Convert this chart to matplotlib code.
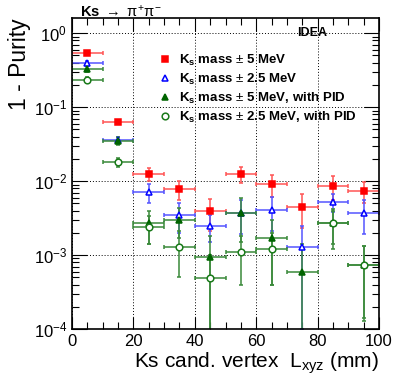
import matplotlib
matplotlib.use("Agg")
import matplotlib.pyplot as plt
from matplotlib.ticker import MultipleLocator, LogLocator, NullFormatter
import numpy as np

plt.rcParams['font.family'] = ['Liberation Sans', 'DejaVu Sans']
plt.rcParams['mathtext.fontset'] = 'custom'
plt.rcParams['mathtext.rm'] = 'Liberation Sans'
plt.rcParams['mathtext.it'] = 'Liberation Sans'
plt.rcParams['mathtext.bf'] = 'Liberation Sans:bold'

# bin centres (mm), half width 5 mm
x_red = [5, 15, 25, 35, 45, 55, 65, 75, 85, 95]
red = [0.54, 0.063, 0.0125, 0.0078, 0.0039, 0.0125, 0.0091, 0.0045, 0.0086, 0.0074]
red_err = [0.03, 0.004, 0.0025, 0.0022, 0.0018, 0.003, 0.003, 0.0022, 0.003, 0.0023]

x_blue = [5, 15, 25, 35, 45, 55, 65, 75, 85, 95]
blue = [0.39, 0.036, 0.0071, 0.0035, 0.0025, 0.0037, 0.0041, 0.0013, 0.0053, 0.0037]
blue_err = [0.03, 0.004, 0.002, 0.0015, 0.001, 0.0018, 0.002, 0.0012, 0.0015, 0.0018]

x_gtri = [5, 15, 25, 35, 45, 55, 65, 75, 85, 95]
gtri = [0.33, 0.035, 0.0027, 0.003, 0.00094, 0.0037, 0.0017, 0.0006, 0.0027, 0.00073]
gtri_err = [0.03, 0.004, 0.0013, 0.0013, 0.0009, 0.0022, 0.0013, 0.0008, 0.0015, 0.0006]

x_gcirc = [5, 15, 25, 35, 45, 55, 65, 85, 95]
gcirc = [0.235, 0.018, 0.0024, 0.0013, 0.00049, 0.0011, 0.0012, 0.0027, 0.00074]
gcirc_err = [0.02, 0.0025, 0.001, 0.0008, 0.0005, 0.0007, 0.0008, 0.0013, 0.0006]

labels = [r"$\mathbf{K_s}$ mass $\pm$ 5 MeV",
          r"$\mathbf{K_s}$ mass $\pm$ 2.5 MeV",
          r"$\mathbf{K_s}$ mass $\pm$ 5 MeV, with PID",
          r"$\mathbf{K_s}$ mass $\pm$ 2.5 MeV, with PID"]

fig = plt.figure(figsize=(3.99, 3.84), dpi=100)
ax = fig.add_axes([0.1805, 0.143, 0.7695, 0.810])

series = [
    (x_red, red, red_err, 's', '#ff0000', '#ff0000', '#ff5555'),
    (x_blue, blue, blue_err, '^', 'white', '#0000ff', '#5555ff'),
    (x_gtri, gtri, gtri_err, '^', '#006400', '#006400', '#3a8a3a'),
    (x_gcirc, gcirc, gcirc_err, 'o', 'white', '#1a7a1a', '#3a8a3a'),
]
handles = []
for xs, ys, es, mk, fc, ec, bc in series:
    ax.errorbar(xs, ys, xerr=5, yerr=[es, es], fmt='none', ecolor=bc,
                elinewidth=1.3, capsize=1.5, capthick=1.3, alpha=0.85, zorder=2)
    h = ax.plot(xs, ys, linestyle='none', marker=mk, markersize=4.8,
                markerfacecolor=fc, markeredgecolor=ec, markeredgewidth=1.1, zorder=3)[0]
    handles.append(h)

ax.set_yscale('log')
ax.set_xlim(0, 100)
ax.set_ylim(1e-4, 1.6)

ax.xaxis.set_major_locator(MultipleLocator(20))
ax.xaxis.set_minor_locator(MultipleLocator(5))
ax.yaxis.set_major_locator(LogLocator(base=10, numticks=10))
ax.yaxis.set_minor_locator(LogLocator(base=10, subs=np.arange(2, 10), numticks=10))
ax.yaxis.set_minor_formatter(NullFormatter())
ax.tick_params(which='both', direction='in', top=True, right=True, labelsize=12)
ax.tick_params(which='major', length=9, width=0.8)
ax.tick_params(which='minor', length=5, width=0.8)
ax.tick_params(axis='y', which='major', length=11)
ax.grid(True, which='major', linestyle=(0, (1, 2)), color='black', linewidth=0.7)
for s in ax.spines.values():
    s.set_linewidth(1.2)

ax.set_ylabel("1 - Purity", fontsize=16.5, loc='top', labelpad=2)
ax.set_xlabel(r"Ks cand. vertex  L$_{\mathrm{xyz}}$ (mm)", fontsize=15, loc='right', labelpad=1)

ax.legend(handles, labels, loc='upper left', bbox_to_anchor=(0.25, 0.913), frameon=False,
          prop={'weight': 'bold', 'size': 9.5}, handletextpad=0.5, labelspacing=0.28,
          handlelength=1.2, numpoints=1, borderaxespad=0.2)

fig.text(0.2, 0.97, r"Ks $\rightarrow$ $\pi^{+}\pi^{-}$", fontsize=10.5, fontweight='bold', va='center')
ax.text(0.733, 0.952, "IDEA", transform=ax.transAxes, fontsize=9, fontweight='bold', va='center')

fig.savefig("out.png", dpi=100)
